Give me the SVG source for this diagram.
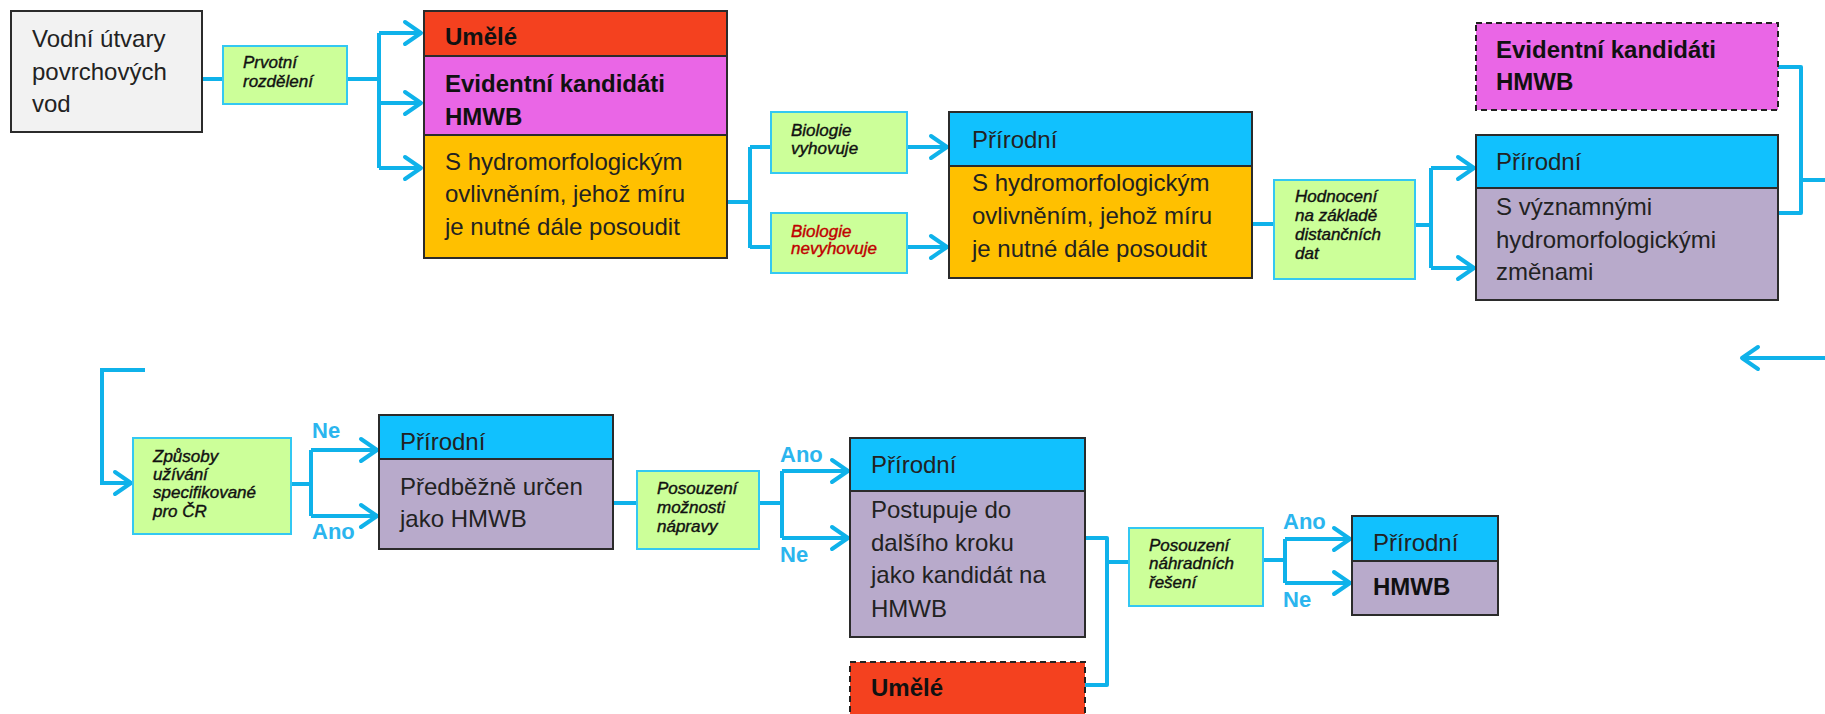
<svg xmlns="http://www.w3.org/2000/svg" width="1825" height="714" viewBox="0 0 1825 714">
<defs>
<style>
.bx{stroke:#2b2b2b;stroke-width:2}
.dsh{stroke:#222;stroke-width:2;stroke-dasharray:6 4}
.red{fill:#F4411F}
.pink{fill:#EA66E6}
.org{fill:#FFC000}
.blu{fill:#11C1FE}
.pur{fill:#B8AACB}
.gry{fill:#F2F2F2}
.gr{fill:#CCFF99;stroke:#33C8F2;stroke-width:2}
.t{font-family:"Liberation Sans",Arial,sans-serif;font-size:24px;fill:#222}
.b{font-weight:bold;fill:#111}
.s{font-family:"Liberation Sans",Arial,sans-serif;font-size:17px;font-style:italic;fill:#111;stroke:#111;stroke-width:0.4}
.sr{fill:#C00000;stroke:#C00000}
.lb{font-family:"Liberation Sans",Arial,sans-serif;font-size:22px;font-weight:bold;fill:#2BB5EE}
.c{fill:none;stroke:#0FB2EA;stroke-width:4;stroke-linejoin:round}
.a{fill:none;stroke:#0FB2EA;stroke-width:4;marker-end:url(#ar)}
</style>
<marker id="ar" markerUnits="userSpaceOnUse" markerWidth="30" markerHeight="30" viewBox="-20 -15 24 30" refX="0" refY="0" orient="auto" overflow="visible">
<path d="M-16,-11 L0,0 L-16,11" fill="none" stroke="#0FB2EA" stroke-width="4" stroke-linecap="round" stroke-linejoin="round"/>
</marker>
</defs>

<g id="connectors">
<path class="c" d="M202,79 H223"/>
<path class="c" d="M347,79 H379 M379,33 V168"/>
<path class="a" d="M379,33 H421"/>
<path class="a" d="M379,103 H421"/>
<path class="a" d="M379,168 H421"/>
<path class="c" d="M727,202 H750 M750,147 V248 M750,147 H771 M750,247 H771"/>
<path class="a" d="M907,147 H947"/>
<path class="a" d="M907,247 H947"/>
<path class="c" d="M1252,224 H1274"/>
<path class="c" d="M1415,225 H1431 M1431,168 V268"/>
<path class="a" d="M1431,168 H1474"/>
<path class="a" d="M1431,268 H1474"/>
<path class="c" d="M1778,67 H1801 V213 H1778 M1801,180 H1825"/>
<path class="a" d="M1825,358 H1742"/>
<path class="a" d="M145,370 H102 V483 H131"/>
<path class="c" d="M291,484 H311 M311,450 V516"/>
<path class="a" d="M311,450 H377"/>
<path class="a" d="M311,516 H377"/>
<path class="c" d="M613,503 H637"/>
<path class="c" d="M759,503 H782 M782,471 V538"/>
<path class="a" d="M782,471 H848"/>
<path class="a" d="M782,538 H848"/>
<path class="c" d="M1085,538 H1107 V685 H1085 M1107,562 H1129"/>
<path class="c" d="M1263,560 H1285 M1285,539 V583"/>
<path class="a" d="M1285,539 H1350"/>
<path class="a" d="M1285,583 H1350"/>
<text class="lb" x="312" y="438">Ne</text>
<text class="lb" x="312" y="539">Ano</text>
<text class="lb" x="780" y="462">Ano</text>
<text class="lb" x="780" y="562">Ne</text>
<text class="lb" x="1283" y="529">Ano</text>
<text class="lb" x="1283" y="607">Ne</text>
</g>

<g id="vodni">
<rect class="bx gry" x="11" y="11" width="191" height="121"/>
<text class="t" x="32" y="47">Vodní útvary</text>
<text class="t" x="32" y="80">povrchových</text>
<text class="t" x="32" y="112">vod</text>
</g>

<g id="prvotni">
<rect class="gr" x="223" y="46" width="124" height="58"/>
<text class="s" x="243" y="68">Prvotní</text>
<text class="s" x="243" y="87">rozdělení</text>
</g>

<g id="kategorie1">
<rect class="bx red" x="424" y="11" width="303" height="45"/>
<rect class="bx pink" x="424" y="56" width="303" height="79"/>
<rect class="bx org" x="424" y="135" width="303" height="123"/>
<text class="t b" x="445" y="45">Umělé</text>
<text class="t b" x="445" y="92">Evidentní kandidáti</text>
<text class="t b" x="445" y="125">HMWB</text>
<text class="t" x="445" y="170">S hydromorfologickým</text>
<text class="t" x="445" y="202">ovlivněním, jehož míru</text>
<text class="t" x="445" y="235">je nutné dále posoudit</text>
</g>

<g id="bio-ok">
<rect class="gr" x="771" y="112" width="136" height="61"/>
<text class="s" x="791" y="136">Biologie</text>
<text class="s" x="791" y="154">vyhovuje</text>
</g>

<g id="bio-nok">
<rect class="gr" x="771" y="213" width="136" height="60"/>
<text class="s sr" x="791" y="237">Biologie</text>
<text class="s sr" x="791" y="254">nevyhovuje</text>
</g>

<g id="kategorie2">
<rect class="bx blu" x="949" y="112" width="303" height="54"/>
<rect class="bx org" x="949" y="166" width="303" height="112"/>
<text class="t" x="972" y="148">Přírodní</text>
<text class="t" x="972" y="191">S hydromorfologickým</text>
<text class="t" x="972" y="224">ovlivněním, jehož míru</text>
<text class="t" x="972" y="257">je nutné dále posoudit</text>
</g>

<g id="hodnoceni">
<rect class="gr" x="1274" y="180" width="141" height="99"/>
<text class="s" x="1295" y="202">Hodnocení</text>
<text class="s" x="1295" y="221">na základě</text>
<text class="s" x="1295" y="240">distančních</text>
<text class="s" x="1295" y="259">dat</text>
</g>

<g id="evidentni2">
<rect class="dsh pink" x="1476" y="23" width="302" height="87"/>
<text class="t b" x="1496" y="58">Evidentní kandidáti</text>
<text class="t b" x="1496" y="90">HMWB</text>
</g>

<g id="kategorie3">
<rect class="bx blu" x="1476" y="135" width="302" height="53"/>
<rect class="bx pur" x="1476" y="188" width="302" height="112"/>
<text class="t" x="1496" y="170">Přírodní</text>
<text class="t" x="1496" y="215">S významnými</text>
<text class="t" x="1496" y="248">hydromorfologickými</text>
<text class="t" x="1496" y="280">změnami</text>
</g>

<g id="zpusoby">
<rect class="gr" x="133" y="438" width="158" height="96"/>
<text class="s" x="153" y="462">Způsoby</text>
<text class="s" x="153" y="480">užívání</text>
<text class="s" x="153" y="498">specifikované</text>
<text class="s" x="153" y="517">pro ČR</text>
</g>

<g id="kategorie4">
<rect class="bx blu" x="379" y="415" width="234" height="44"/>
<rect class="bx pur" x="379" y="459" width="234" height="90"/>
<text class="t" x="400" y="450">Přírodní</text>
<text class="t" x="400" y="495">Předběžně určen</text>
<text class="t" x="400" y="527">jako HMWB</text>
</g>

<g id="napravy">
<rect class="gr" x="637" y="471" width="122" height="78"/>
<text class="s" x="657" y="494">Posouzení</text>
<text class="s" x="657" y="513">možnosti</text>
<text class="s" x="657" y="532">nápravy</text>
</g>

<g id="kategorie5">
<rect class="bx blu" x="850" y="438" width="235" height="53"/>
<rect class="bx pur" x="850" y="491" width="235" height="146"/>
<text class="t" x="871" y="473">Přírodní</text>
<text class="t" x="871" y="518">Postupuje do</text>
<text class="t" x="871" y="551">dalšího kroku</text>
<text class="t" x="871" y="583">jako kandidát na</text>
<text class="t" x="871" y="617">HMWB</text>
</g>

<g id="umele2">
<rect class="dsh red" x="850" y="662" width="235" height="60"/>
<text class="t b" x="871" y="696">Umělé</text>
</g>

<g id="nahradni">
<rect class="gr" x="1129" y="528" width="134" height="78"/>
<text class="s" x="1149" y="551">Posouzení</text>
<text class="s" x="1149" y="569">náhradních</text>
<text class="s" x="1149" y="588">řešení</text>
</g>

<g id="kategorie6">
<rect class="bx blu" x="1352" y="516" width="146" height="45"/>
<rect class="bx pur" x="1352" y="561" width="146" height="54"/>
<text class="t" x="1373" y="551">Přírodní</text>
<text class="t b" x="1373" y="595">HMWB</text>
</g>
</svg>
